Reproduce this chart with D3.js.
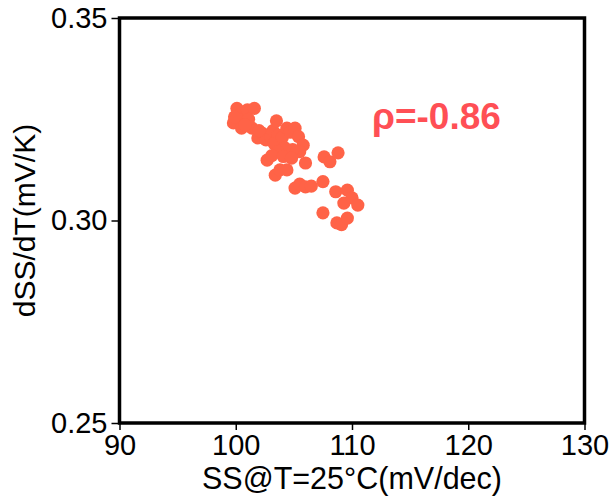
<!DOCTYPE html>
<html>
<head>
<meta charset="utf-8">
<script src="https://cdn.jsdelivr.net/npm/d3@7"></script>
<style>
  html, body { margin: 0; padding: 0; background: #fff; }
  svg { display: block; font-family: "Liberation Sans", Arial, sans-serif; }
</style>
</head>
<body>
<svg id="chart" width="612" height="502"></svg>
<script>
// Subthreshold swing at 25°C vs its temperature coefficient
const ssValues = [
  100.0, 100.1, 100.4, 99.8, 99.9, 100.5, 101.0, 101.6, 101.4, 101.1,
  101.9, 102.3, 102.6, 103.0, 103.2, 103.5, 103.65, 103.3, 104.0, 104.4,
  104.7, 105.1, 105.4, 105.8, 105.5, 104.9, 104.2, 103.6, 102.7, 103.1,
  104.1, 104.8, 106.0, 103.4, 103.8, 104.4, 105.1, 105.5, 106.0, 106.5,
  107.5, 107.6, 108.1, 108.8, 108.6, 109.3, 109.6, 110.0, 110.5, 107.5,
  108.7, 109.1, 109.6, 102.0, 100.8
];
const dssdtValues = [
  0.3246, 0.3277, 0.3262, 0.3241, 0.3256, 0.3228, 0.3273, 0.3277, 0.3228, 0.3250,
  0.3204, 0.3215, 0.3199, 0.3207, 0.3222, 0.3246, 0.3211, 0.3190, 0.3205, 0.3228,
  0.3218, 0.3228, 0.3207, 0.3186, 0.3170, 0.3175, 0.3180, 0.3170, 0.3149, 0.3160,
  0.3158, 0.3154, 0.3142, 0.3112, 0.3125, 0.3125, 0.3080, 0.3090, 0.3083, 0.3085,
  0.3096, 0.3157, 0.3145, 0.3167, 0.3071, 0.3043, 0.3075, 0.3056, 0.3038, 0.3019,
  0.2994, 0.2990, 0.3006, 0.3222, 0.3236
];
const xTicks = [90, 100, 110, 120, 130];
const yTicks = [0.25, 0.30, 0.35];
const rhoLabel = "ρ=-0.86";

const svg = d3.select("#chart");
const plotLeft = 119.5, plotRight = 584.5, plotTop = 18, plotBottom = 423;

const x = d3.scaleLinear().domain([90, 130]).range([plotLeft, plotRight]);
const y = d3.scaleLinear().domain([0.25, 0.35]).range([plotBottom, plotTop]);

// points
const pts = ssValues.map((v, i) => ({ ss: v, d: dssdtValues[i] }));
svg.append("g")
  .selectAll("circle")
  .data(pts)
  .join("circle")
  .attr("cx", d => x(d.ss))
  .attr("cy", d => y(d.d))
  .attr("r", 6.6)
  .attr("fill", "#ff6347");

// frame
svg.append("rect")
  .attr("x", plotLeft).attr("y", plotTop)
  .attr("width", plotRight - plotLeft).attr("height", plotBottom - plotTop)
  .attr("fill", "none").attr("stroke", "#000").attr("stroke-width", 3.5);

// axes
const xAxis = svg.append("g")
  .attr("transform", `translate(0,${plotBottom})`)
  .call(d3.axisBottom(x).tickValues(xTicks).tickSize(7).tickPadding(4).tickFormat(d3.format("d")));
const yAxis = svg.append("g")
  .attr("transform", `translate(${plotLeft},0)`)
  .call(d3.axisLeft(y).tickValues(yTicks).tickSize(8).tickPadding(4).tickFormat(d3.format(".2f")));

[xAxis, yAxis].forEach(g => {
  g.select(".domain").remove();
  g.selectAll(".tick line").attr("stroke", "#000").attr("stroke-width", 1.5);
  g.selectAll(".tick text")
    .attr("fill", "#000")
    .attr("font-size", 29)
    .attr("font-family", "Liberation Sans, Arial, sans-serif");
});

// axis titles
svg.append("text")
  .attr("x", 352)
  .attr("y", 489)
  .attr("text-anchor", "middle")
  .attr("font-size", 30.5)
  .attr("fill", "#000")
  .text("SS@T=25°C(mV/dec)");

svg.append("text")
  .attr("transform", `translate(35,${(plotTop + plotBottom) / 2}) rotate(-90)`)
  .attr("text-anchor", "middle")
  .attr("font-size", 30)
  .attr("fill", "#000")
  .text("dSS/dT(mV/K)");

// correlation annotation
svg.append("text")
  .attr("x", 372)
  .attr("y", 129)
  .attr("font-size", 37)
  .attr("font-weight", "bold")
  .attr("fill", "#ff4f55")
  .text(rhoLabel);
</script>
</body>
</html>
